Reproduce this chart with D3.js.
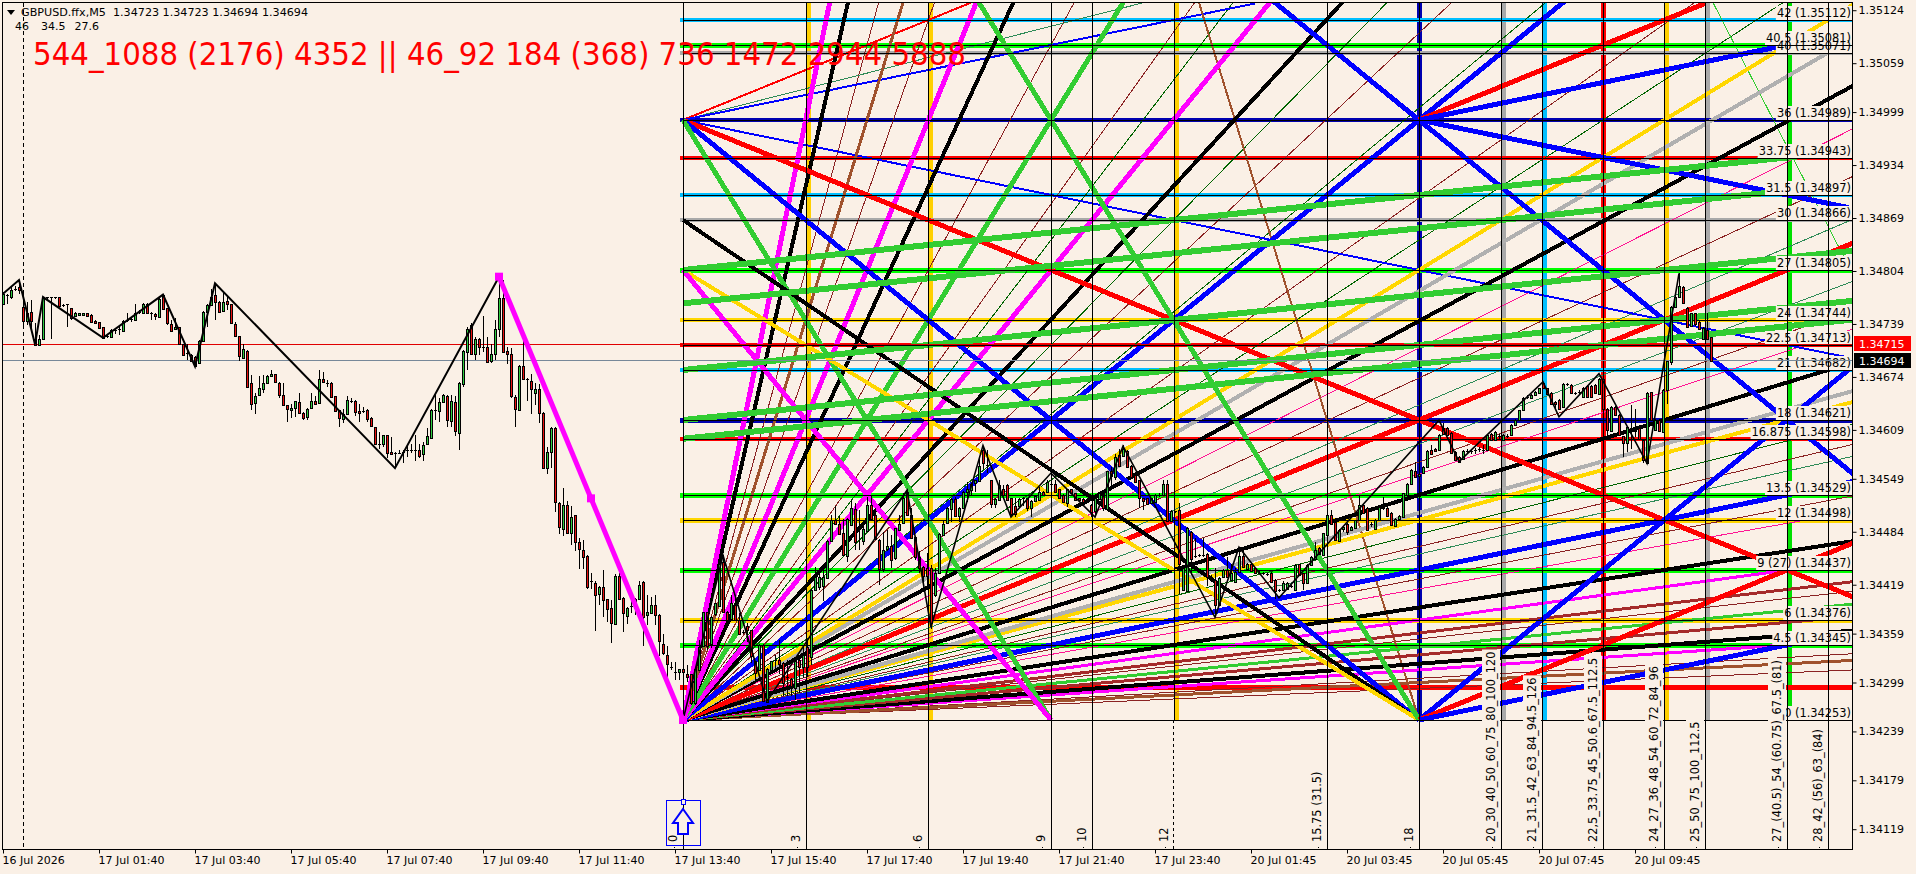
<!DOCTYPE html>
<html><head><meta charset="utf-8">
<script src="https://cdn.jsdelivr.net/npm/d3@7"></script>
<style>html,body{margin:0;padding:0;background:#FAF0E6;overflow:hidden}svg{display:block}text{font-family:"DejaVu Sans",sans-serif;font-size:11px;fill:#000}</style>
</head><body><div id="c"></div>
<script>
const priceTicks=[1.35124,1.35059,1.34999,1.34934,1.34869,1.34804,1.34739,1.34674,1.34609,1.34549,1.34484,1.34419,1.34359,1.34299,1.34239,1.34179,1.34119];
const timeTickBars=[0,24,48,72,96,120,144,168,192,216,240,264,288,312,336,360,384,408];
const timeTickLabels=["16 Jul 2026","17 Jul 01:40","17 Jul 03:40","17 Jul 05:40","17 Jul 07:40","17 Jul 09:40","17 Jul 11:40","17 Jul 13:40","17 Jul 15:40","17 Jul 17:40","17 Jul 19:40","17 Jul 21:40","17 Jul 23:40","20 Jul 01:45","20 Jul 03:45","20 Jul 05:45","20 Jul 07:45","20 Jul 09:45"];
// [open, high, low, close], points above 1.34000
const ohlcPoints=[
[764,778,764,776],[775,776,764,775],[773,785,770,781],[782,785,780,782],[784,793,776,780],[760,776,733,743],[743,766,738,753],[754,768,731,743],[721,740,714,714],[714,725,714,721],
[721,772,721,771],[772,772,770,772],[772,772,721,772],[772,772,770,772],[772,772,760,761],[762,764,760,762],[763,764,735,763],[758,758,744,746],[749,754,748,753],[750,753,749,752],
[751,753,750,753],[752,753,747,748],[750,751,740,741],[743,744,740,740],[742,742,734,735],[735,735,721,721],[724,725,722,723],[723,733,722,732],[732,733,727,732],[733,735,725,733],
[731,744,730,743],[744,752,742,744],[744,748,742,745],[744,763,743,753],[754,756,751,754],[753,765,752,764],[764,765,753,753],[753,754,744,753],[751,753,744,748],[748,771,747,770],
[774,775,756,757],[758,758,738,739],[739,744,729,731],[732,746,731,735],[735,735,714,714],[715,715,702,702],[703,715,695,703],[701,702,693,694],[699,700,688,688],[691,719,690,718],
[718,755,718,754],[753,763,735,762],[762,782,761,772],[774,789,744,765],[766,767,753,754],[755,778,754,766],[767,774,756,763],[763,763,739,740],[739,741,724,724],[724,724,693,699],
[697,714,696,708],[706,707,661,662],[666,676,633,640],[641,654,629,650],[652,675,651,660],[660,676,654,667],[667,676,666,675],[675,683,674,677],[677,678,666,667],[667,668,648,652],
[652,666,639,640],[639,640,619,634],[634,641,623,636],[635,645,625,644],[643,654,628,629],[630,631,621,624],[625,636,621,635],[636,654,635,645],[645,650,640,641],[643,682,642,672],
[672,680,667,668],[667,670,662,667],[667,668,649,650],[650,651,631,632],[633,634,612,623],[623,635,617,629],[629,650,628,646],[644,648,642,644],[645,646,626,631],[632,641,619,630],
[632,637,630,632],[634,635,619,623],[623,625,612,613],[613,613,592,592],[592,606,586,592],[592,603,588,603],[603,603,574,581],[582,600,580,580],[581,582,562,581],[581,584,580,581],
[582,584,568,582],[584,592,576,584],[584,592,581,584],[584,603,571,584],[584,592,574,577],[580,594,571,591],[591,611,590,601],[600,635,599,634],[633,652,621,633],[632,648,619,643],
[643,653,642,652],[651,652,613,621],[620,652,613,644],[643,650,602,607],[605,668,584,666],[666,707,662,706],[705,735,682,733],[738,740,702,703],[702,723,695,720],[721,722,701,711],
[711,749,704,711],[711,723,693,693],[693,715,691,702],[702,744,695,733],[733,799,723,771],[771,793,704,705],[706,711,690,702],[702,709,648,651],[649,652,612,634],[634,689,633,688],
[688,725,670,672],[672,673,645,672],[669,677,628,659],[654,666,639,659],[659,665,618,630],[630,631,562,562],[562,588,555,582],[582,612,562,611],[611,613,508,520],[519,520,481,489],
[488,538,479,517],[517,522,482,483],[482,515,468,502],[504,505,461,471],[471,476,438,463],[462,474,438,453],[454,455,414,416],[423,434,414,423],[421,423,362,406],[407,417,394,416],
[416,437,380,400],[401,402,373,389],[390,400,348,371],[371,432,370,430],[430,433,400,402],[403,404,361,385],[381,392,371,391],[393,404,384,393],[391,403,382,402],[402,423,401,419],
[422,424,344,379],[381,406,369,385],[384,404,383,394],[394,406,369,382],[382,383,332,350],[346,359,333,335],[333,344,305,322],[318,324,314,318],[312,324,302,312],[312,316,302,316],
[315,324,253,311],[310,320,300,306],
[309,310,271,273],[273,316,272,315],[315,351,314,343],[343,386,342,385],[385,386,339,343],[347,381,341,380],[382,397,381,396],[394,455,393,445],[447,455,385,386],[386,387,375,376],
[376,406,375,396],[394,404,375,376],[376,384,358,359],[361,363,358,361],[368,372,349,363],[363,364,323,331],[325,326,302,310],[314,346,313,345],[345,346,275,276],[276,317,275,316],
[314,326,313,325],[327,333,314,327],[327,351,310,322],[323,324,282,298],[306,327,282,306],[303,304,282,294],[292,326,278,325],[327,328,286,318],[318,343,304,333],[343,351,306,318],
[331,414,320,413],[413,441,412,429],[417,437,413,429],[417,441,399,428],[428,474,427,473],[472,505,471,498],[499,515,493,494],[494,503,481,482],[482,500,454,455],[455,501,447,500],
[492,523,491,513],[512,519,462,471],[488,511,462,488],[472,498,468,487],[485,527,484,517],[517,529,499,500],[505,513,474,476],[474,475,419,439],[439,484,435,462],[462,486,461,466],
[466,480,439,449],[451,489,449,488],[487,505,486,494],[494,531,493,525],[533,537,503,505],[505,513,476,477],[478,479,449,453],[453,460,433,439],[441,442,421,430],[439,458,417,429],
[439,443,365,372],[406,439,404,433],[433,482,432,481],[480,498,479,494],[494,514,493,513],[512,525,496,524],[524,527,502,503],[503,514,496,513],[513,534,512,533],[533,545,521,537],
[536,544,529,543],[543,548,533,547],[547,576,546,565],
[584,589,561,568],[566,584,556,566],[547,548,513,518],[518,525,513,524],[523,547,522,541],[536,541,528,529],[541,543,522,523],[525,526,502,505],[515,525,502,505],[516,525,515,524],
[525,527,515,525],[525,526,509,513],[514,523,502,522],[522,529,521,528],[523,539,522,533],[533,534,528,529],[533,547,532,545],[543,556,541,543],[543,547,532,533],[536,537,524,525],
[529,530,520,521],[519,537,514,536],[536,537,530,531],[531,532,522,523],[525,526,521,522],[524,525,515,520],[521,523,519,521],[517,518,502,509],[509,526,502,525],[525,533,524,532],
[532,533,509,513],[511,559,509,558],[558,564,541,552],[552,580,547,576],[578,586,563,564],[577,590,576,586],[583,584,562,563],[565,566,551,552],[554,555,544,545],[547,548,513,525],
[525,526,511,521],[525,526,517,518],[519,526,518,525],[520,530,519,529],[529,531,527,529],[530,547,529,543],[543,548,497,498],[498,511,497,510],[509,510,507,509],[511,519,408,445],
[412,440,411,439],[412,490,411,489],[484,485,431,451],[454,476,452,454],[455,457,453,455],[455,476,453,455],[457,458,417,429],[429,431,427,429],[425,439,382,394],[394,428,393,427],
[429,438,428,437],[437,453,428,429],[425,445,424,433],[423,439,422,435],[434,462,433,454],[454,464,440,441],[439,446,438,445],[445,446,436,437],[439,440,432,433],[434,436,432,434],
[433,435,431,433],[432,434,430,432],[434,435,422,423],[425,426,402,412],[412,414,410,412],[412,423,411,421],[414,422,413,421],[417,419,415,417],[412,444,411,443],[444,445,430,431],
[433,434,412,421],[421,444,420,443],[443,454,442,453],[451,472,450,462],[464,465,456,457],[455,483,454,482],[481,506,480,505],[505,511,493,494],[496,497,473,474],[473,487,472,486],
[488,491,484,490],[494,495,480,484],
[486,491,485,490],[488,499,487,498],[498,529,497,517],[517,518,506,507],[513,514,485,486],[494,496,490,494],[488,500,487,499],[498,515,497,514],[513,527,511,513],[513,514,502,503],
[507,508,491,492],[492,501,491,500],[499,504,498,503],[502,532,501,531],[530,544,529,543],[543,561,542,560],[559,570,551,552],[552,556,551,555],[557,565,556,564],[563,584,562,583],
[584,591,578,579],[586,587,582,583],[585,604,584,603],[611,617,603,604],[611,612,602,603],[605,606,580,581],[582,583,571,572],[576,577,569,570],[573,584,572,583],[583,585,581,583],
[583,586,580,583],[584,587,580,584],[584,588,582,585],[584,590,580,584],[584,604,583,603],[604,605,596,597],[597,608,596,607],[601,604,598,601],[597,604,596,603],[601,604,599,601],
[603,616,602,615],[615,622,614,621],[621,634,620,633],[633,649,632,648],[649,652,647,649],[648,653,647,652],[652,657,651,656],[654,661,653,660],[666,668,659,660],[660,661,652,653],
[654,655,640,641],[643,644,635,641],[646,647,634,635],[637,666,636,665],[665,666,663,664],[664,665,653,654],[654,656,652,654],[655,658,653,655],[650,662,649,661],[663,664,649,650],
[663,664,648,649],[664,665,653,654],[654,673,653,672],[672,675,634,635],[635,636,603,609],[608,638,607,637],[637,638,626,627],[627,628,602,603],[601,602,576,593],[592,613,582,612],
[609,640,586,609],[608,635,600,608],[611,612,596,597],[597,598,568,572],[568,655,567,654],[655,656,620,621],[609,622,608,621],[621,622,607,608],[607,659,606,658],[658,694,641,693],
[693,761,689,760],[760,773,759,772],[772,802,771,785],[784,785,763,764],[759,760,735,736],[736,753,735,752],[752,753,737,738],[742,743,733,734],[721,735,720,734],[732,752,720,721],
[723,723,694,694]];
const zigzagBars=[0,4,8,10,25,40,48,53,98,124];
const zigzagPoints=[776,793,714,772,722,775,687,789,562,797];
const zigzag2Bars=[170,180,191,226,232,245,252,262,273,280,303,309,319,359,364,385,389,399,411,419];
const zigzag2Points=[253,455,276,535,367,590,502,556,502,589,379,465,403,621,570,668,625,678,568,801];
const levelPrices=[1.35112,1.35081,1.35071,1.34989,1.34943,1.34897,1.34866,1.34805,1.34744,1.34713,1.34682,1.34621,1.34598,1.34529,1.34498,1.34437,1.34376,1.34345,1.34294,1.34253];
const levelColors=["#00BFFF","#00FF00","#A9A9A9","#0000B0","#FF0000","#00BFFF","#A9A9A9","#00FF00","#FFD700","#FF0000","#00BFFF","#0000B0","#FF0000","#00FF00","#FFD700","#00FF00","#FFD700","#00FF00","#FF0000","none"];
const levelWidths=[4,5,4,4,4,4,4,5,4,4,4,5,4,5,5,5,5,5,5,0];
const levelLabels=["42 (1.35112)","40.5 (1.35081)","40 (1.35071)","36 (1.34989)","33.75 (1.34943)","31.5 (1.34897)","30 (1.34866)","27 (1.34805)","24 (1.34744)","22.5 (1.34713)","21 (1.34682)","18 (1.34621)","16.875 (1.34598)","13.5 (1.34529)","12 (1.34498)","9 (27) (1.34437)","6 (1.34376)","4.5 (1.34345)","","0 (1.34253)"];
const timeUnits=[0,3,6,9,10,12,15.75,18,20,21,22.5,24,25,27,28];
const timeColors=["none","#FFD000","#FFD000","none","none","#FFD000","none","#0000B0","#A9A9A9","#00BFFF","#FF0000","#FFD000","#A9A9A9","#00E000","none"];
const timeLabels=["0","3","6","9","10","12","15.75 (31.5)","18","20_30_40_50_60_75_80_100_120","21_31.5_42_63_84_94.5_126","22,5_33.75_45_50.6_67.5_112.5","24_27_36_48_54_60_72_84_96","25_50_75_100_112.5","27_(40.5)_54_(60.75)_67.5_(81)","28_42_(56)_63_(84)"];
const thinSlopes=[9,7,4.5,3.44,3.2,2.5,2.29,2.04,1.74,1.6,1.24,1.14,1.05,0.92,0.86,0.82,0.62,0.578,0.553,0.47,0.437,0.27,0.139,0.105];
const thinColors=["#8B2323","#8B2323","#8B2323","#8B2323","#006400","#006400","#8B2323","#006400","#8B2323","#006400","#FF1493","#8B2323","#2E8B57","#2E8B57","#8B2323","#FF1493","#006400","#8B2323","#2E8B57","#8B2323","#FF1493","#8B2323","#8B2323","#8B2323"];
const fanSlopes=[12,10.67,8,6,5.33,4,3,2.67,2,1.5,1.43,1.33,1,0.75,0.69,0.667,0.5,0.375,0.333,0.29,0.243,0.217,0.1875,0.167,0.125];
const fanColors=["#FF00FF","#000","#A0522D","#FF00FF","#000","#32CD32","#FF00FF","#000","#0000FF","#FFD700","#B0B0B0","#000","#FF0000","#000","#B0B0B0","#FFD700","#0000FF","#000","#FF00FF","#A52A2A","#32CD32","#A52A2A","#000","#FF00FF","#A0522D"];
const fanWidths=[5,4,3,5,4,5,5,4,5,4,4,4,5,4,4,4,5,4,3,3,3,3,4,3,3];
// other rays: start unit, start level, slope, end unit
const rayT0=[0,0,0,0,0,0,0,0,0,0,7,14,18,18,18,18,18,18,18,18,12.6,25.2,0,0,0,0,0];
const rayL0=[36,36,36,36,36,36,36,30,27,27,44,44,36,36,36,36,18,0,0,0,43.2,43,27,25,21,18,16.875];
const raySlope=[1,0.625,0.5,-0.5,-1,-2,-4,-1.667,-1.5,-3,-4,-2,2,1,0.5,-0.5,-1,2,1,0.5,-8,-4.77,0.25,0.25,0.25,0.25,0.25];
const rayEnd=[8,12,14,28.4,26.8,18,9,18,18,9,18,28.7,21.6,25,27,28.5,28.7,28.7,28.7,27.4,18,28.7,27.8,26.7,28.7,28.7,28.7];
const rayColor=["#FF0000","#2E8B57","#0000FF","#0000FF","#FF0000","#0000FF","#32CD32","#000","#FFD700","#FF00FF","#32CD32","#0000FF","#0000FF","#FF0000","#0000FF","#0000FF","#FF0000","#0000FF","#FF0000","#0000FF","#A0522D","#32CD32","#32CD32","#32CD32","#32CD32","#32CD32","#32CD32"];
const rayWidth=[2,1,2,2,5,5,5,4,4,5,5,5,5,5,5,5,5,5,5,5,2,1,6,6,6,6,6];

const W=1916,H=874,L=3,R=1852,T=3,B=849;
const svg=d3.select("#c").append("svg").attr("width",W).attr("height",H);
svg.append("rect").attr("width",W).attr("height",H).attr("fill","#FAF0E6");
const defs=svg.append("defs");
defs.append("clipPath").attr("id","plot").append("rect").attr("x",L).attr("y",T).attr("width",R-L).attr("height",B-T);
const xBar=d3.scaleLinear().domain([0,1]).range([3,7]);
const yPrice=d3.scaleLinear().domain([1.34253,1.35112]).range([720,20]);
const pv=v=>yPrice(1.34+v/1e5);
const xU=d3.scaleLinear().domain([0,18]).range([683,1419]);
const yU=d3.scaleLinear().domain([0,42]).range([720,20]);
const plot=svg.append("g").attr("clip-path","url(#plot)");
const lines=plot.append("g").attr("shape-rendering","crispEdges");

lines.append("line").attr("x1",23.5).attr("x2",23.5).attr("y1",T).attr("y2",B).attr("stroke","#000").attr("stroke-dasharray","4 3");

// coloured time columns
lines.selectAll(".vc").data(timeUnits.map((u,i)=>({u,c:timeColors[i]})).filter(d=>d.c!=="none")).join("line").attr("class","vc")
 .attr("x1",d=>Math.round(xU(d.u))+(d.u===18||d.u===22.5?0:2)).attr("x2",d=>Math.round(xU(d.u))+(d.u===18||d.u===22.5?0:2))
 .attr("y1",T).attr("y2",720).attr("stroke",d=>d.c).attr("stroke-width",5);
// coloured price levels
lines.selectAll(".hc").data(levelPrices.map((p,i)=>({p,c:levelColors[i],w:levelWidths[i]})).filter(d=>d.w>0)).join("line").attr("class","hc")
 .attr("x1",680).attr("x2",R).attr("y1",d=>Math.round(yPrice(d.p))).attr("y2",d=>Math.round(yPrice(d.p)))
 .attr("stroke",d=>d.c).attr("stroke-width",d=>d.w);

// fans from the low
const t1=28.7;
lines.selectAll(".thin").data(thinSlopes.map((s,i)=>({s,c:thinColors[i]}))).join("line").attr("class","thin")
 .attr("x1",xU(0)).attr("y1",yU(0)).attr("x2",xU(t1)).attr("y2",d=>yU(d.s*t1)).attr("stroke",d=>d.c).attr("stroke-width",1);
lines.selectAll(".ray").data(rayT0.map((t,i)=>i).filter(i=>rayWidth[i]<=2)).join("line").attr("class","ray")
 .attr("x1",i=>xU(rayT0[i])).attr("y1",i=>yU(rayL0[i])).attr("x2",i=>xU(rayEnd[i])).attr("y2",i=>yU(rayL0[i]+raySlope[i]*(rayEnd[i]-rayT0[i])))
 .attr("stroke",i=>rayColor[i]).attr("stroke-width",i=>rayWidth[i]);
lines.selectAll(".fan").data(fanSlopes.map((s,i)=>({s,c:fanColors[i],w:fanWidths[i]})).reverse()).join("line").attr("class","fan")
 .attr("x1",xU(0)).attr("y1",yU(0)).attr("x2",xU(t1)).attr("y2",d=>yU(d.s*t1)).attr("stroke",d=>d.c).attr("stroke-width",d=>d.w);
lines.selectAll(".ray2").data(rayT0.map((t,i)=>i).filter(i=>rayWidth[i]>2)).join("line").attr("class","ray2")
 .attr("x1",i=>xU(rayT0[i])).attr("y1",i=>yU(rayL0[i])).attr("x2",i=>xU(rayEnd[i])).attr("y2",i=>yU(rayL0[i]+raySlope[i]*(rayEnd[i]-rayT0[i])))
 .attr("stroke",i=>rayColor[i]).attr("stroke-width",i=>rayWidth[i]);
// level labels' background then text
const lg=plot.append("g");
levelLabels.forEach((t,i)=>{ if(!t) return;
 const y=Math.round(yPrice(levelPrices[i]));
 const tx=lg.append("text").attr("x",R-1).attr("y",y-3).attr("text-anchor","end").style("font-size","11.4px").text(t);
 const w=tx.node().getComputedTextLength();
 lg.insert("rect","text").attr("x",R-w-2).attr("y",y-14).attr("width",w+2).attr("height",14).attr("fill","#FAF0E6");
});
// black level lines
const blk=plot.append("g").attr("shape-rendering","crispEdges");
blk.selectAll(".hb").data(levelPrices.filter((p,i)=>i!==18)).join("line").attr("class","hb")
 .attr("x1",683).attr("x2",R).attr("y1",d=>Math.round(yPrice(d))+.5).attr("y2",d=>Math.round(yPrice(d))+.5).attr("stroke","#000").attr("stroke-width",1);
// black time lines
blk.selectAll(".vb").data(timeUnits).join("line").attr("class","vb")
 .attr("x1",d=>Math.round(xU(d))+.5).attr("x2",d=>Math.round(xU(d))+.5).attr("y1",T).attr("y2",d=>d===12?720:B).attr("stroke","#000");
blk.append("line").attr("x1",Math.round(xU(12))-1).attr("x2",Math.round(xU(12))-1).attr("y1",720).attr("y2",B).attr("stroke","#000").attr("stroke-dasharray","3 3");

// arrow object
const ax=683,ag=plot.append("g");
ag.append("rect").attr("x",666.5).attr("y",800.5).attr("width",34).attr("height",45).attr("fill","none").attr("stroke","#0000FF");
ag.append("rect").attr("x",681.5).attr("y",799.5).attr("width",4).attr("height",5).attr("fill","#FAF0E6").attr("stroke","#0000FF");
ag.append("path").attr("d",`M${ax} 809 L${ax+10} 823 L${ax+5} 823 L${ax+5} 834 L${ax-5} 834 L${ax-5} 823 L${ax-10} 823 Z`).attr("fill","#FAF0E6").attr("stroke","#0000FF").attr("stroke-width",2);

// vertical labels
timeUnits.forEach((u,i)=>{
 const x=Math.round(xU(u))-6;
 const tx=plot.append("text").attr("transform",`translate(${x},842) rotate(-90)`).style("font-size","11.4px").text(timeLabels[i]);
 const w=tx.node().getComputedTextLength();
 if(i>0) plot.insert("rect",()=>tx.node()).attr("x",x-13).attr("y",842-w-2).attr("width",18).attr("height",w+9).attr("fill","#FAF0E6");
 plot.append("rect").attr("x",x-3).attr("y",847).attr("width",1).attr("height",1).attr("fill","#000");
});

// bid / last lines
plot.append("line").attr("x1",L).attr("x2",R).attr("y1",344.5).attr("y2",344.5).attr("stroke","#E00000");
plot.append("line").attr("x1",L).attr("x2",R).attr("y1",360.5).attr("y2",360.5).attr("stroke","#778899");

// candles
const cg=plot.append("g").attr("shape-rendering","crispEdges");
ohlcPoints.forEach((b,i)=>{
 const x=Math.round(xBar(i));
 cg.append("line").attr("x1",x+.5).attr("x2",x+.5).attr("y1",pv(b[1])).attr("y2",pv(b[2])).attr("stroke","#000");
 const yo=pv(b[0]),yc=pv(b[3]),top=Math.min(yo,yc),h=Math.abs(yo-yc);
 if(h<1.5) cg.append("line").attr("x1",x-1).attr("x2",x+2).attr("y1",Math.round(top)+.5).attr("y2",Math.round(top)+.5).attr("stroke","#000");
 else cg.append("rect").attr("x",x-.5).attr("width",2).attr("y",Math.round(top)+.5).attr("height",Math.round(h)).attr("fill",b[3]>=b[0]?"#2ECC40":"#E81010").attr("stroke","#000");
});

// zigzags
const zl=d3.line().x(d=>xBar(d[0])).y(d=>pv(d[1]));
plot.append("path").attr("d",zl(zigzagBars.map((b,i)=>[b,zigzagPoints[i]]))).attr("fill","none").attr("stroke","#000").attr("stroke-width",2);
plot.append("path").attr("d",zl(zigzag2Bars.map((b,i)=>[b,zigzag2Points[i]]))).attr("fill","none").attr("stroke","#000").attr("stroke-width",1.6);
const pk=[124,797],lo=[170,253];
plot.append("line").attr("x1",xBar(pk[0])).attr("y1",pv(pk[1])).attr("x2",xBar(lo[0])).attr("y2",pv(lo[1])).attr("stroke","#FF00FF").attr("stroke-width",5);
[[124,797],[147,525],[170,253]].forEach(d=>plot.append("rect").attr("x",xBar(d[0])-4).attr("y",pv(d[1])-4).attr("width",8).attr("height",8).attr("fill","#FF00FF"));

// header
svg.append("path").attr("d","M7 10 L15 10 L11 15 Z").attr("fill","#000");
svg.append("text").attr("x",21).attr("y",16).attr("textLength",287).attr("lengthAdjust","spacingAndGlyphs").attr("xml:space","preserve").text("GBPUSD.ffx,M5  1.34723 1.34723 1.34694 1.34694");
[["46",15],["34.5",41],["27.6",74.5]].forEach(d=>svg.append("text").attr("x",d[1]).attr("y",30).text(d[0]));
svg.append("text").attr("x",33).attr("y",65).attr("textLength",933).attr("lengthAdjust","spacingAndGlyphs").style("font-size","32px").style("fill","#FF0000").text("544_1088 (2176) 4352 || 46_92 184 (368) 736 1472 2944 5888");

// axes
const yAxis=d3.axisRight(yPrice).tickValues(priceTicks).tickFormat(d3.format(".5f")).tickSize(4).tickPadding(2);
const gy=svg.append("g").attr("transform",`translate(${R+.5},0)`).call(yAxis);
gy.select(".domain").remove();
const xAxis=d3.axisBottom(xBar).tickValues(timeTickBars).tickFormat((d,i)=>timeTickLabels[i]).tickSize(4).tickPadding(3);
const gx=svg.append("g").attr("transform",`translate(0,${B+.5})`).call(xAxis);
gx.select(".domain").remove();
gx.selectAll("text").attr("text-anchor","start").attr("dx",-1);
svg.selectAll("g.tick text").style("font-family",'"DejaVu Sans",sans-serif').style("font-size","11px");
svg.append("rect").attr("x",2.5).attr("y",2.5).attr("width",R-2).attr("height",B-2).attr("fill","none").attr("stroke","#000");

// price tags
svg.append("rect").attr("x",1854).attr("y",336).attr("width",57).attr("height",15).attr("fill","#FF0000");
svg.append("text").attr("x",1859).attr("y",348).style("fill","#fff").text("1.34715");
svg.append("rect").attr("x",1854).attr("y",353).attr("width",57).attr("height",15).attr("fill","#000");
svg.append("text").attr("x",1859).attr("y",365).style("fill","#fff").text("1.34694");
</script></body></html>
